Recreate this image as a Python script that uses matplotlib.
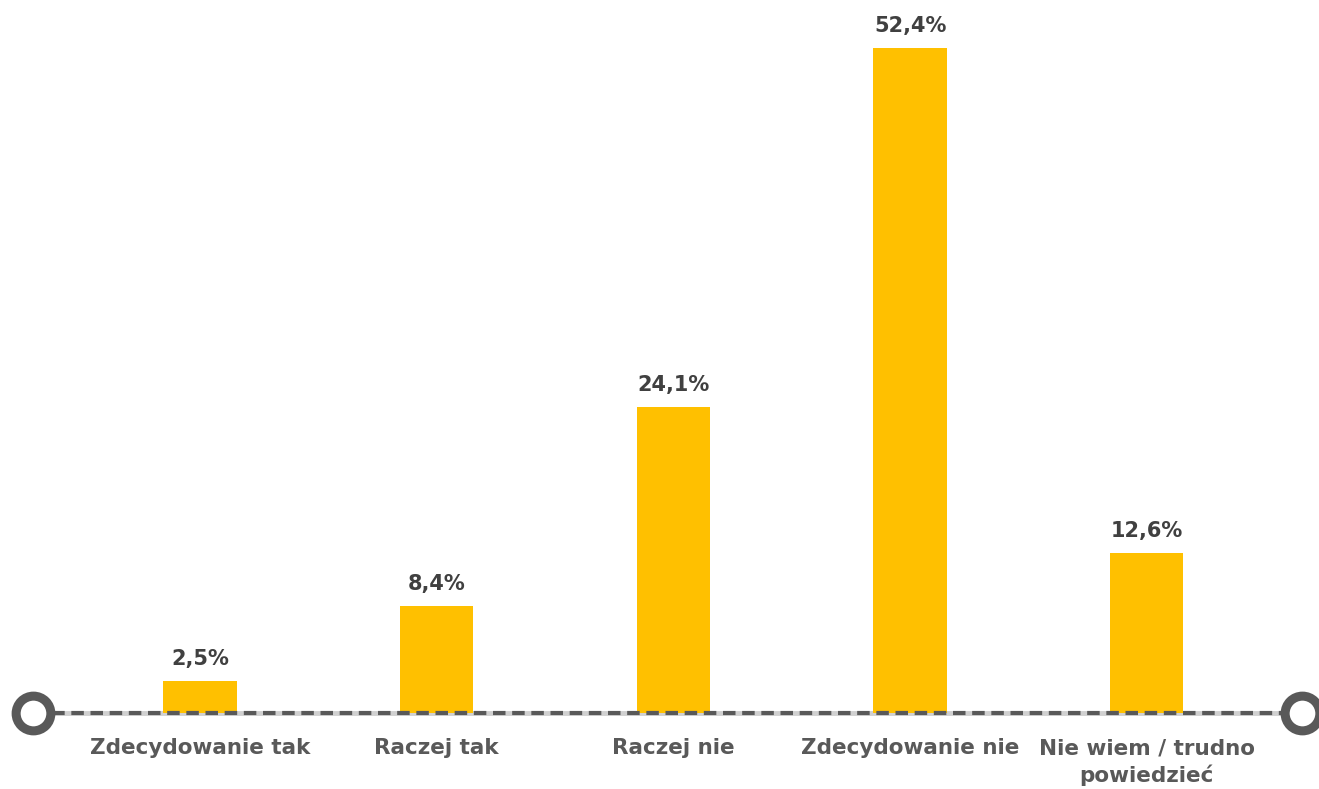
import matplotlib.pyplot as plt

# survey answers and shares (%)
categories = ['Zdecydowanie tak', 'Raczej tak', 'Raczej nie', 'Zdecydowanie nie', 'Nie wiem / trudno\npowiedzieć']
values = [2.5, 8.4, 24.1, 52.4, 12.6]
labels = ['2,5%', '8,4%', '24,1%', '52,4%', '12,6%']

bar_color = '#FFC000'
grey = '#595959'

fig = plt.figure(figsize=(13.19, 7.89), dpi=100)
ax = fig.add_axes([0, 76 / 789, 1, 713 / 789])

x = list(range(len(categories)))
ax.bar(x, values, width=0.31, color=bar_color, zorder=2)

for xi, v, lab in zip(x, values, labels):
    ax.annotate(lab, (xi, v), xytext=(0, 9), textcoords='offset points',
                ha='center', va='bottom', fontsize=15, fontweight='bold',
                color='#404040', family='DejaVu Sans')

# axis line with circles at both ends
x_left, x_right = -0.7055, 4.656
ax.plot([x_left, x_right], [0, 0], color='#D0D0D0', lw=3.5, zorder=1, clip_on=False)
ax.plot([x_left, x_right], [0, 0], color=grey, lw=3, ls=(0, (3, 1.6)), zorder=3, clip_on=False)
ax.plot([x_left, x_right], [0, 0], 'o', ms=25, mfc='white', mec=grey, mew=6.5,
        zorder=4, clip_on=False)

ax.set_xlim(-200 / 236.7, (1319 - 200) / 236.7)
ax.set_ylim(0, 713 / 12.69)
ax.set_xticks(x)
ax.set_xticklabels(categories, fontsize=15.5, fontweight='bold', color=grey,
                   family='DejaVu Sans', linespacing=1.4)
ax.tick_params(axis='x', length=0, pad=18)
ax.set_yticks([])
for s in ax.spines.values():
    s.set_visible(False)

fig.savefig('out.png', dpi=100)
